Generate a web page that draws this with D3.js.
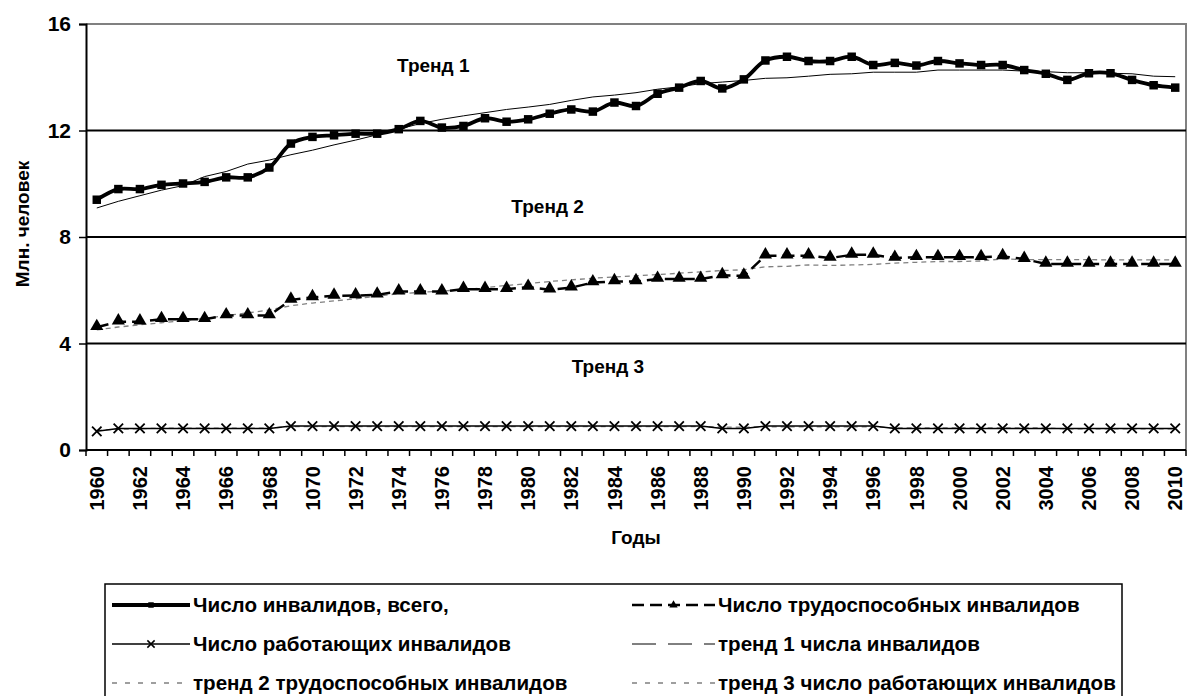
<!DOCTYPE html>
<html>
<head>
<meta charset="utf-8">
<script src="https://cdn.jsdelivr.net/npm/d3@7"></script>
<style>
  body { margin: 0; background: #fff; }
  svg { display: block; font-family: "Liberation Sans", Arial, sans-serif; font-weight: bold; }
</style>
</head>
<body>
<div id="chart"></div>
<script>
// years on the category axis
var years = d3.range(1960, 2011);

// labels under every second year (as printed in the source, typos included)
var yearLabels = ['1960', '1962', '1964', '1966', '1968', '1070', '1972', '1974', '1976', '1978',
    '1980', '1982', '1984', '1986', '1988', '1990', '1992', '1994', '1996', '1998',
    '2000', '2002', '3004', '2006', '2008', '2010'];

var yTicks = [0, 4, 8, 12, 16];

// Число инвалидов, всего
var total = [9.40, 9.80, 9.80, 9.96, 10.01, 10.07, 10.24, 10.24, 10.61, 11.51,
    11.76, 11.82, 11.88, 11.88, 12.05, 12.36, 12.11, 12.17, 12.46, 12.33,
    12.42, 12.63, 12.79, 12.71, 13.05, 12.92, 13.38, 13.61, 13.86, 13.58,
    13.92, 14.63, 14.77, 14.61, 14.61, 14.77, 14.46, 14.54, 14.44, 14.61,
    14.52, 14.46, 14.46, 14.27, 14.13, 13.90, 14.15, 14.15, 13.90, 13.70,
    13.61];

// Число трудоспособных инвалидов
var ableBodied = [4.61, 4.82, 4.82, 4.91, 4.91, 4.91, 5.05, 5.05, 5.05, 5.64,
    5.73, 5.79, 5.80, 5.83, 5.95, 5.95, 5.95, 6.04, 6.04, 6.04,
    6.12, 6.02, 6.10, 6.29, 6.33, 6.33, 6.42, 6.42, 6.42, 6.56,
    6.54, 7.30, 7.30, 7.30, 7.21, 7.33, 7.33, 7.21, 7.24, 7.24,
    7.24, 7.24, 7.27, 7.17, 6.99, 6.99, 6.99, 6.99, 6.99, 6.99,
    6.99];

// Число работающих инвалидов
var working = [0.70, 0.81, 0.81, 0.81, 0.81, 0.81, 0.81, 0.81, 0.81, 0.90,
    0.90, 0.90, 0.90, 0.90, 0.90, 0.90, 0.90, 0.90, 0.90, 0.90,
    0.90, 0.90, 0.90, 0.90, 0.90, 0.90, 0.90, 0.90, 0.90, 0.81,
    0.81, 0.90, 0.90, 0.90, 0.90, 0.90, 0.90, 0.81, 0.81, 0.81,
    0.81, 0.81, 0.81, 0.81, 0.81, 0.81, 0.81, 0.81, 0.81, 0.81,
    0.81];

// тренд 1 числа инвалидов
var trend1 = [9.09, 9.34, 9.55, 9.76, 9.93, 10.27, 10.46, 10.74, 10.89, 11.09,
    11.26, 11.46, 11.64, 11.84, 12.05, 12.26, 12.42, 12.55, 12.67, 12.79,
    12.88, 12.98, 13.13, 13.26, 13.33, 13.42, 13.55, 13.64, 13.76, 13.82,
    13.88, 13.96, 13.98, 14.04, 14.11, 14.13, 14.19, 14.19, 14.19, 14.27,
    14.27, 14.27, 14.27, 14.23, 14.21, 14.17, 14.17, 14.15, 14.13, 14.04,
    14.02];

// тренд 2 трудоспособных инвалидов
var trend2 = [4.51, 4.62, 4.70, 4.78, 4.86, 4.94, 5.05, 5.15, 5.26, 5.42,
    5.52, 5.60, 5.68, 5.78, 5.87, 5.92, 5.97, 6.02, 6.10, 6.18,
    6.25, 6.33, 6.39, 6.45, 6.50, 6.54, 6.59, 6.64, 6.69, 6.74,
    6.77, 6.88, 6.90, 6.95, 6.93, 6.95, 6.97, 7.02, 7.05, 7.08,
    7.08, 7.10, 7.18, 7.15, 7.15, 7.15, 7.15, 7.14, 7.14, 7.14,
    7.14];

// тренд 3 число работающих инвалидов
var trend3 = [0.74, 0.78, 0.80, 0.82, 0.82, 0.82, 0.82, 0.82, 0.82, 0.88,
    0.88, 0.88, 0.88, 0.88, 0.88, 0.88, 0.88, 0.88, 0.88, 0.88,
    0.88, 0.88, 0.88, 0.88, 0.88, 0.88, 0.88, 0.88, 0.88, 0.86,
    0.86, 0.87, 0.87, 0.87, 0.87, 0.87, 0.87, 0.83, 0.83, 0.83,
    0.83, 0.83, 0.83, 0.83, 0.83, 0.79, 0.79, 0.79, 0.79, 0.79,
    0.79];

// captions placed in the plot (year position, value position)
var trendLabels = [
    {text: 'Тренд 1', year: 1975.6, value: 14.2},
    {text: 'Тренд 2', year: 1980.9, value: 8.9},
    {text: 'Тренд 3', year: 1983.7, value: 2.9}
];

(function() {
    var width = 1187,
        height = 696,
        plotLeft = 86, plotRight = 1186, plotTop = 24, plotBottom = 450;

    var svg = d3.select('#chart').append('svg')
        .attr('width', width)
        .attr('height', height);

    var x = d3.scaleBand().domain(years).range([plotLeft, plotRight]);
    var cx = function(d, i) { return x(years[i]) + x.bandwidth() / 2; };
    var xYear = d3.scaleLinear().domain([1959.5, 2010.5]).range([plotLeft, plotRight]);
    var y = d3.scaleLinear().domain([0, 16]).range([plotBottom, plotTop]);

    // plot border (grey top and right)
    svg.append('path')
        .attr('d', 'M' + plotLeft + ',' + y(16) + 'H' + plotRight + 'V' + plotBottom)
        .attr('fill', 'none')
        .attr('stroke', '#808080')
        .attr('stroke-width', 2);

    // gridlines
    svg.selectAll('.grid')
        .data([4, 8, 12])
        .enter().append('line')
        .attr('class', 'grid')
        .attr('x1', plotLeft).attr('x2', plotRight)
        .attr('y1', function(d) { return y(d); })
        .attr('y2', function(d) { return y(d); })
        .attr('stroke', '#000')
        .attr('stroke-width', 2);

    // y axis
    var yAxis = svg.append('g')
        .attr('transform', 'translate(' + plotLeft + ',0)')
        .call(d3.axisLeft(y).tickValues(yTicks).tickSize(7).tickPadding(8));
    yAxis.select('.domain').attr('stroke-width', 2);
    yAxis.selectAll('.tick line').attr('stroke-width', 1.5);
    yAxis.selectAll('text').style('font-size', '21px').style('font-family', 'inherit').style('font-weight', 'bold');

    // x axis: baseline, ticks between categories, rotated labels
    svg.append('line')
        .attr('x1', plotLeft).attr('x2', plotRight)
        .attr('y1', plotBottom).attr('y2', plotBottom)
        .attr('stroke', '#000').attr('stroke-width', 2);

    svg.selectAll('.xtick')
        .data(years.concat([2011]))
        .enter().append('line')
        .attr('class', 'xtick')
        .attr('x1', function(d, i) { return plotLeft + i * x.step(); })
        .attr('x2', function(d, i) { return plotLeft + i * x.step(); })
        .attr('y1', plotBottom).attr('y2', plotBottom + 6)
        .attr('stroke', '#000').attr('stroke-width', 1.5);

    var labelYears = years.filter(function(d) { return (d - 1960) % 2 === 0; });
    svg.selectAll('.xlabel')
        .data(labelYears)
        .enter().append('text')
        .attr('class', 'xlabel')
        .attr('transform', function(d) { return 'translate(' + (x(d) + x.bandwidth() / 2) + ',' + (plotBottom + 16) + ') rotate(-90)'; })
        .attr('text-anchor', 'end')
        .attr('dy', '0.36em')
        .style('font-size', '20px')
        .text(function(d, i) { return yearLabels[i]; });

    // axis titles
    svg.append('text')
        .attr('x', (plotLeft + plotRight) / 2)
        .attr('y', 544)
        .attr('text-anchor', 'middle')
        .style('font-size', '19px')
        .text('Годы');

    svg.append('text')
        .attr('transform', 'translate(29,' + 224 + ') rotate(-90)')
        .attr('text-anchor', 'middle')
        .style('font-size', '19px')
        .text('Млн. человек');

    // trend lines
    var straight = d3.line().x(cx).y(function(d) { return y(d); });
    var smooth = d3.line().x(cx).y(function(d) { return y(d); }).curve(d3.curveCatmullRom.alpha(0.5));

    svg.append('path').datum(trend1)
        .attr('d', straight).attr('fill', 'none')
        .attr('stroke', '#000').attr('stroke-width', 1);
    svg.append('path').datum(trend2)
        .attr('d', straight).attr('fill', 'none')
        .attr('stroke', '#808080').attr('stroke-width', 1.3).attr('stroke-dasharray', '5,4');
    svg.append('path').datum(trend3)
        .attr('d', straight).attr('fill', 'none')
        .attr('stroke', '#808080').attr('stroke-width', 1.3).attr('stroke-dasharray', '5,4');

    // series lines
    svg.append('path').datum(total)
        .attr('d', smooth).attr('fill', 'none')
        .attr('stroke', '#000').attr('stroke-width', 3.8);
    svg.append('path').datum(ableBodied)
        .attr('d', straight).attr('fill', 'none')
        .attr('stroke', '#000').attr('stroke-width', 2.5).attr('stroke-dasharray', '12,6');
    svg.append('path').datum(working)
        .attr('d', straight).attr('fill', 'none')
        .attr('stroke', '#000').attr('stroke-width', 1.5);

    // markers
    var square = d3.symbol().type(d3.symbolSquare).size(72);
    var triangle = d3.symbol().type(d3.symbolTriangle).size(75);
    var cross = d3.symbol().type(d3.symbolX).size(60);

    svg.selectAll('.sq')
        .data(total)
        .enter().append('path')
        .attr('class', 'sq')
        .attr('d', square)
        .attr('transform', function(d, i) { return 'translate(' + cx(d, i) + ',' + y(d) + ')'; })
        .attr('fill', '#000');

    svg.selectAll('.tri')
        .data(ableBodied)
        .enter().append('path')
        .attr('class', 'tri')
        .attr('d', triangle)
        .attr('transform', function(d, i) { return 'translate(' + cx(d, i) + ',' + (y(d) - 1) + ')'; })
        .attr('fill', '#000');

    svg.selectAll('.cr')
        .data(working)
        .enter().append('path')
        .attr('class', 'cr')
        .attr('d', cross)
        .attr('transform', function(d, i) { return 'translate(' + cx(d, i) + ',' + y(d) + ')'; })
        .attr('fill', 'none')
        .attr('stroke', '#000')
        .attr('stroke-width', 1.8);

    // trend captions
    svg.selectAll('.trend')
        .data(trendLabels)
        .enter().append('text')
        .attr('class', 'trend')
        .attr('x', function(d) { return xYear(d.year); })
        .attr('y', function(d) { return y(d.value); })
        .attr('text-anchor', 'middle')
        .style('font-size', '19px')
        .text(function(d) { return d.text; });

    // legend
    var legend = svg.append('g');
    legend.append('rect')
        .attr('x', 105).attr('y', 584)
        .attr('width', 1017).attr('height', 130)
        .attr('fill', 'none')
        .attr('stroke', '#000')
        .attr('stroke-width', 1.5);

    var legendItems = [
        {text: 'Число инвалидов, всего,', col: 0, row: 0, width: 3.8, dash: null, color: '#000', mark: square},
        {text: 'Число трудоспособных инвалидов', col: 1, row: 0, width: 2.5, dash: '12,6', color: '#000', mark: triangle},
        {text: 'Число работающих инвалидов', col: 0, row: 1, width: 1.5, dash: null, color: '#000', mark: cross},
        {text: 'тренд 1 числа инвалидов', col: 1, row: 1, width: 1, dash: '24,12', color: '#000', mark: null},
        {text: 'тренд 2 трудоспособных инвалидов', col: 0, row: 2, width: 1.3, dash: '5,8', color: '#808080', mark: null},
        {text: 'тренд 3 число работающих инвалидов', col: 1, row: 2, width: 1.3, dash: '5,8', color: '#808080', mark: null}
    ];
    var colX = [112, 632], colW = [78, 83], rowY = [605, 644, 683];

    var item = legend.selectAll('.item')
        .data(legendItems)
        .enter().append('g')
        .attr('class', 'item')
        .attr('transform', function(d) { return 'translate(' + colX[d.col] + ',' + rowY[d.row] + ')'; });

    item.append('line')
        .attr('x1', 0)
        .attr('x2', function(d) { return colW[d.col]; })
        .attr('stroke', function(d) { return d.color; })
        .attr('stroke-width', function(d) { return d.width; })
        .attr('stroke-dasharray', function(d) { return d.dash; });

    item.filter(function(d) { return d.mark; })
        .append('path')
        .attr('d', function(d) { return d3.symbol().type(d.mark.type()).size(d.mark === cross ? 36 : 30)(); })
        .attr('transform', function(d) { return 'translate(' + colW[d.col] / 2 + ',0)'; })
        .attr('fill', function(d) { return d.mark === cross ? 'none' : '#000'; })
        .attr('stroke', function(d) { return d.mark === cross ? '#000' : null; })
        .attr('stroke-width', 1.5);

    item.append('text')
        .attr('x', function(d) { return colW[d.col] + 3; })
        .attr('dy', '0.36em')
        .style('font-size', '20.6px')
        .text(function(d) { return d.text; });
})();
</script>
</body>
</html>
